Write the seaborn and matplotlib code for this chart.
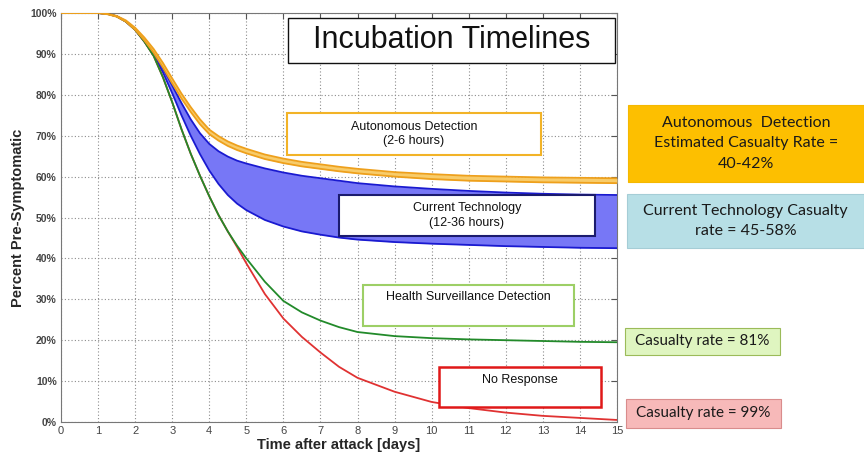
import matplotlib
matplotlib.use("Agg")
import matplotlib.pyplot as plt
from matplotlib.patches import Rectangle
import pandas as pd
import seaborn as sns

days = [0, 1, 1.25, 1.5, 1.75, 2, 2.25, 2.5, 2.75, 3, 3.25, 3.5, 3.75, 4, 4.25, 4.5, 4.75, 5,
        5.5, 6, 6.5, 7, 7.5, 8, 9, 10, 11, 12, 13, 14, 15]
auto_hi = [100, 100, 99.8, 99.3, 98.2, 96.4, 94.0, 91.2, 87.8, 84.0, 80.3, 77.0, 74.0, 71.5, 69.9, 68.6, 67.6, 66.8,
           65.4, 64.4, 63.6, 63.0, 62.4, 61.9, 61.1, 60.6, 60.2, 60.0, 59.8, 59.7, 59.6]
auto_lo = [100, 100, 99.7, 99.1, 97.9, 95.9, 93.3, 90.3, 86.7, 82.8, 79.1, 75.8, 72.8, 70.4, 68.8, 67.5, 66.5, 65.7,
           64.3, 63.3, 62.5, 61.9, 61.3, 60.8, 60.0, 59.4, 59.0, 58.8, 58.6, 58.5, 58.4]
tech_hi = [100, 100, 99.8, 99.2, 98.0, 96.0, 93.3, 90.2, 86.5, 82.3, 78.0, 74.0, 70.6, 68.0, 66.2, 64.9, 63.9, 63.2,
           62.0, 61.0, 60.2, 59.6, 59.0, 58.4, 57.6, 57.0, 56.5, 56.1, 55.8, 55.6, 55.5]
tech_lo = [100, 100, 99.8, 99.2, 97.9, 95.9, 93.0, 89.7, 85.5, 80.4, 75.0, 70.0, 65.5, 61.5, 58.2, 55.5, 53.4, 51.8,
           49.4, 47.8, 46.6, 45.8, 45.1, 44.6, 44.0, 43.6, 43.3, 43.0, 42.8, 42.6, 42.5]
health = [100, 100, 99.8, 99.2, 97.9, 95.9, 93.0, 89.5, 84.3, 78.2, 71.6, 65.6, 60.2, 55.2, 50.6, 46.6, 43.1, 40.0,
          34.3, 29.6, 26.8, 24.8, 23.2, 22.0, 21.0, 20.5, 20.2, 20.0, 19.8, 19.6, 19.5]
no_resp = [100, 100, 99.8, 99.2, 97.9, 95.9, 93.0, 89.5, 84.3, 78.2, 71.6, 65.6, 60.2, 55.2, 50.6, 46.6, 42.8, 38.8,
           31.3, 25.3, 20.8, 17.0, 13.5, 10.8, 7.4, 4.9, 3.4, 2.3, 1.5, 1.0, 0.5]

y_ticks = list(range(0, 101, 10))
x_ticks = list(range(0, 16))

df = pd.DataFrame({"day": days, "auto_hi": auto_hi, "auto_lo": auto_lo,
                   "tech_hi": tech_hi, "tech_lo": tech_lo,
                   "health": health, "no_resp": no_resp})

sns.set_style("white")
plt.rcParams["font.family"] = ["Liberation Sans", "DejaVu Sans"]

fig = plt.figure(figsize=(8.64, 4.58), dpi=100)
ax = fig.add_axes([0.0706, 0.0786, 0.6435, 0.893])

# bands
ax.fill_between(df["day"], df["tech_lo"], df["tech_hi"], color="#7777f6", lw=0, zorder=2)
sns.lineplot(data=df, x="day", y="tech_hi", ax=ax, color="#1a1ad0", lw=1.3, zorder=3)
sns.lineplot(data=df, x="day", y="tech_lo", ax=ax, color="#1a1ad0", lw=1.3, zorder=3)
ax.fill_between(df["day"], df["auto_lo"], df["auto_hi"], color="#f8cc6a", lw=0, zorder=4)
sns.lineplot(data=df, x="day", y="auto_hi", ax=ax, color="#eea01c", lw=1.3, zorder=5)
sns.lineplot(data=df, x="day", y="auto_lo", ax=ax, color="#eea01c", lw=1.3, zorder=5)
sns.lineplot(data=df, x="day", y="no_resp", ax=ax, color="#e03232", lw=1.3, zorder=3)
sns.lineplot(data=df, x="day", y="health", ax=ax, color="#228a2a", lw=1.3, zorder=3)

ax.set_xlim(0, 15)
ax.set_ylim(0, 100)
ax.set_xticks(x_ticks)
ax.set_yticks(y_ticks)
ax.set_xticklabels([str(t) for t in x_ticks])
ax.set_yticklabels([f"{t}%" for t in y_ticks])
ax.tick_params(direction="in", top=True, right=True, length=4, width=0.8,
               labelsize=7.5, labelcolor="#444444", color="#555555", pad=3)
for lab in ax.get_yticklabels():
    lab.set_fontweight("bold")
for lab in ax.get_xticklabels():
    lab.set_fontsize(8)
ax.grid(True, color="#8c8c8c", lw=0.8, linestyle=(0, (1, 2)))
for s in ax.spines.values():
    s.set_color("#777777")
    s.set_linewidth(0.8)
ax.set_xlabel("Time after attack [days]", fontsize=10.5, fontweight="bold", labelpad=1)
ax.set_ylabel("Percent Pre-Symptomatic", fontsize=10.5, fontweight="bold", labelpad=4)

# boxes inside the plot
def data_box(x0, x1, y0, y1, edge, text, size, lw=1.5, ty=None):
    ax.add_patch(Rectangle((x0, y0), x1 - x0, y1 - y0, facecolor="white",
                           edgecolor=edge, lw=lw, zorder=6))
    ax.text((x0 + x1) / 2, (y0 + y1) / 2 if ty is None else ty, text, ha="center",
            va="center", fontsize=size, zorder=7, color="#111111", linespacing=1.3)

data_box(6.13, 14.95, 87.8, 98.8, "#111111", "Incubation Timelines", 22, lw=1.0)
data_box(6.1, 12.95, 65.3, 75.5, "#f2b327", "Autonomous Detection\n(2-6 hours)", 9)
data_box(7.5, 14.4, 45.5, 55.5, "#1b1b6e", "Current Technology\n(12-36 hours)", 9)
data_box(8.15, 13.85, 23.5, 33.5, "#9dcf66", "Health Surveillance Detection", 9, ty=30.6)
data_box(10.2, 14.57, 3.7, 13.4, "#e01818", "No Response", 9, lw=1.8, ty=10.3)

# boxes to the right of the plot
W, H = 864, 458
def fig_box(x0, x1, y0, y1, face, edge, text, size):
    fig.add_artist(Rectangle((x0 / W, 1 - y1 / H), (x1 - x0) / W, (y1 - y0) / H,
                             transform=fig.transFigure, facecolor=face,
                             edgecolor=edge, lw=0.8))
    fig.text((x0 + x1) / 2 / W, 1 - (y0 + y1) / 2 / H, text, ha="center",
             va="center", fontsize=size, family=["Lato", "DejaVu Sans"],
             color="#1a1a1a", linespacing=1.6)

fig_box(628, 864, 105, 182, "#fdbf00", "#f5b800", "Autonomous  Detection\nEstimated Casualty Rate =\n40-42%", 11.5)
fig_box(627, 864, 194, 248, "#b7dfe6", "#a5cdd6", "Current Technology Casualty\nrate = 45-58%", 11.5)
fig_box(625, 780, 328, 355, "#dff5c0", "#9bbb59", "Casualty rate = 81%", 11)
fig_box(626, 781, 399, 428, "#f7b9b9", "#d98c8c", "Casualty rate = 99%", 11)

fig.savefig("out.png", dpi=100)
